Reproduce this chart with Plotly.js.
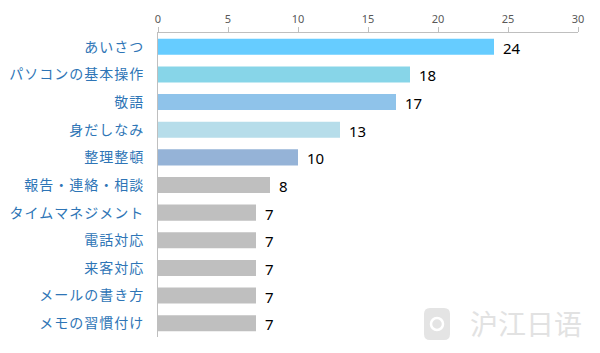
<!DOCTYPE html>
<html><head><meta charset="utf-8">
<script src="https://cdn.plot.ly/plotly-3.0.1.min.js"></script>
<style>html,body{margin:0;padding:0;background:#fff}#chart{width:600px;height:353px}
.ytick text{letter-spacing:1px}</style>
</head><body><div id="chart"></div>
<script>
const categories = ["あいさつ","パソコンの基本操作","敬語","身だしなみ","整理整頓","報告・連絡・相談","タイムマネジメント","電話対応","来客対応","メールの書き方","メモの習慣付け"];
const values = [24,18,17,13,10,8,7,7,7,7,7];
const barColors = ["#66CCFF","#87D5E8","#8FC3EA","#B6DDEA","#95B3D7","#BFBFBF","#BFBFBF","#BFBFBF","#BFBFBF","#BFBFBF","#BFBFBF"];
const xTicks = [0,5,10,15,20,25,30];

const trace = {
  type: "bar", orientation: "h",
  x: values, y: categories,
  marker: {color: barColors},
  width: 0.58,
  hoverinfo: "none"
};
const annotations = values.map((v,i)=>({
  x: v, y: categories[i], xref:"x", yref:"y",
  text: String(v), showarrow:false, xanchor:"left", xshift:7, yshift:-1,
  font:{family:"Noto Sans, sans-serif", size:15, color:"#000"}
}));
// watermark text
const pw = 420, ph = 304, pl = 158, pt = 33;
const px = x => (x - pl) / pw;
const py = y => (pt + ph - y) / ph;
annotations.push({
  xref:"paper", yref:"paper", x:px(526), y:py(323), xanchor:"center", yanchor:"middle",
  text:"沪江日语", showarrow:false,
  font:{family:"Noto Sans CJK SC", size:28, color:"#E2E2E2"}
});
const x0=px(424), x1=px(450), y0=py(340), y1=py(308), r=px(430)-px(424), ry=(py(308)-py(314));
const iconPath = `M ${x0+r} ${y1} L ${x1-r} ${y1} Q ${x1} ${y1} ${x1} ${y1-ry} L ${x1} ${y0+ry} Q ${x1} ${y0} ${x1-r} ${y0} L ${x0+r} ${y0} Q ${x0} ${y0} ${x0} ${y0+ry} L ${x0} ${y1-ry} Q ${x0} ${y1} ${x0+r} ${y1} Z`;
const layout = {
  width:600, height:353,
  margin:{l:158, r:22, t:33, b:16},
  paper_bgcolor:"#fff", plot_bgcolor:"#fff",
  showlegend:false,
  xaxis:{side:"top", range:[0,30], tickvals:xTicks, ticktext:xTicks.map(String),
    showgrid:false, zeroline:false, showline:true, linecolor:"#BFBFBF", linewidth:1,
    ticks:"outside", ticklen:5, tickcolor:"#BFBFBF",
    tickfont:{family:"Noto Sans, sans-serif", size:11, color:"#595959"}, fixedrange:true},
  yaxis:{autorange:"reversed", showgrid:false, zeroline:false, showline:true, linecolor:"#BFBFBF", linewidth:1,
    ticks:"", ticklabelstandoff:10,
    tickfont:{family:"Noto Sans CJK JP", size:14, color:"#2E75B6"}, fixedrange:true},
  shapes:[
    {type:"path", xref:"paper", yref:"paper", path:iconPath, fillcolor:"#E4E4E4", line:{width:0}, layer:"below"},
    {type:"circle", xref:"paper", yref:"paper", x0:px(431), x1:px(443), y0:py(330), y1:py(318), line:{color:"#FFFFFF", width:2.5}, layer:"below"}
  ],
  annotations: annotations
};
Plotly.newPlot("chart",[trace],layout,{displayModeBar:false, staticPlot:true});
</script></body></html>
